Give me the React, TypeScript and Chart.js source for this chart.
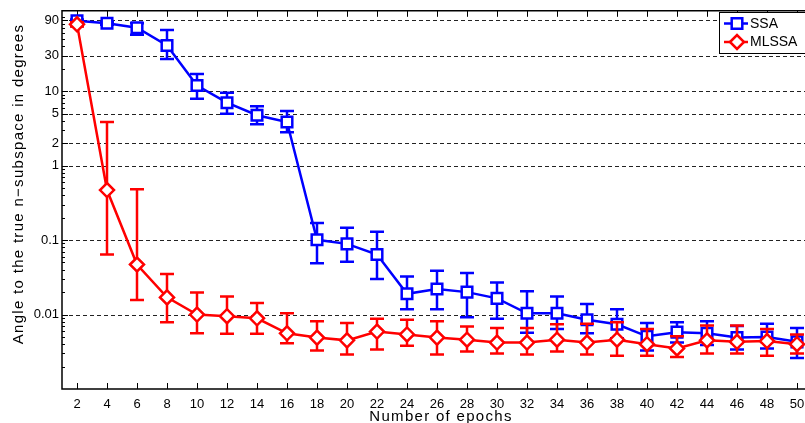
import React, { useEffect, useRef } from "react";
import { Chart, registerables } from "chart.js";

Chart.register(...registerables);

// ---------- data ----------
const epochs = [2, 4, 6, 8, 10, 12, 14, 16, 18, 20, 22, 24, 26, 28, 30, 32, 34, 36, 38, 40, 42, 44, 46, 48, 50];

const ssaMean = [88, 81.5, 71, 41, 11.9, 7.0, 4.75, 3.85, 0.101, 0.089, 0.064, 0.019, 0.022, 0.020, 0.0165, 0.0104, 0.0104, 0.0085, 0.0074, 0.0051, 0.0058, 0.0056, 0.0049, 0.0050, 0.0043];
const ssaUpper = [92, 85, 81.5, 66.5, 17, 9.5, 6.25, 5.4, 0.17, 0.146, 0.129, 0.0324, 0.0386, 0.036, 0.027, 0.0205, 0.0175, 0.0139, 0.0118, 0.0077, 0.0079, 0.0081, 0.007, 0.0075, 0.0066];
const ssaLower = [84, 78, 57, 27, 7.9, 4.98, 3.6, 2.8, 0.049, 0.051, 0.030, 0.0118, 0.0118, 0.0092, 0.0088, 0.0057, 0.0064, 0.0056, 0.0048, 0.0033, 0.0042, 0.0039, 0.0034, 0.0035, 0.0026];

const mlssaMean = [79, 0.47, 0.047, 0.017, 0.010, 0.0095, 0.0089, 0.0056, 0.0049, 0.0045, 0.0059, 0.0054, 0.0049, 0.0046, 0.0042, 0.0042, 0.0046, 0.0042, 0.0046, 0.0040, 0.0035, 0.0045, 0.0043, 0.0044, 0.0040];
const mlssaUpper = [84, 3.86, 0.483, 0.0349, 0.0198, 0.0175, 0.0143, 0.0104, 0.0081, 0.0077, 0.0088, 0.0085, 0.0081, 0.0069, 0.0066, 0.0066, 0.0074, 0.0075, 0.0079, 0.0064, 0.0051, 0.0071, 0.0071, 0.0064, 0.0054];
const mlssaLower = [74, 0.064, 0.0157, 0.0079, 0.0056, 0.0055, 0.0055, 0.0041, 0.0033, 0.0029, 0.0034, 0.0038, 0.0029, 0.0032, 0.003, 0.0029, 0.0032, 0.0029, 0.0028, 0.0028, 0.0027, 0.003, 0.003, 0.0028, 0.003];

const yTickValues = [0.01, 0.1, 1, 2, 5, 10, 30, 90];
const xTickValues = epochs;
const seriesNames = ["SSA", "MLSSA"];
const xTitle = "Number of epochs";
const yTitle = "Angle to the true n\u2212subspace in degrees";

const BLUE = "#0000ff";
const RED = "#ff0000";
const FONT = "'Liberation Sans', Arial, Helvetica, sans-serif";

function drawMarker(ctx: CanvasRenderingContext2D, style: string, x: number, y: number, color: string) {
  ctx.save();
  ctx.lineWidth = 2.5;
  ctx.strokeStyle = color;
  ctx.fillStyle = "#fff";
  ctx.beginPath();
  if (style === "rect") {
    const s = 5.3;
    ctx.rect(x - s, y - s, 2 * s, 2 * s);
  } else {
    const r = 7;
    ctx.moveTo(x - r, y);
    ctx.lineTo(x, y - r);
    ctx.lineTo(x + r, y);
    ctx.lineTo(x, y + r);
    ctx.closePath();
  }
  ctx.fill();
  ctx.stroke();
  ctx.restore();
}

const framePlugin = {
  id: "matlabFrame",
  beforeDatasetsDraw(chart: any) {
    const { ctx, chartArea: a, scales } = chart;
    const x = scales.x;
    const y = scales.y;
    ctx.save();
    // dashed grid lines
    ctx.strokeStyle = "#222";
    ctx.lineWidth = 1;
    ctx.setLineDash([4, 3]);
    for (const v of yTickValues) {
      const py = Math.round(y.getPixelForValue(v)) + 0.5;
      ctx.beginPath();
      ctx.moveTo(a.left, py);
      ctx.lineTo(a.right, py);
      ctx.stroke();
    }
    ctx.setLineDash([]);
    ctx.strokeStyle = "#000";
    // x ticks (bottom & top, inward)
    for (const v of xTickValues) {
      const px = Math.round(x.getPixelForValue(v)) + 0.5;
      ctx.beginPath();
      ctx.moveTo(px, a.bottom);
      ctx.lineTo(px, a.bottom - 6);
      ctx.moveTo(px, a.top);
      ctx.lineTo(px, a.top + 6);
      ctx.stroke();
    }
    // y major ticks
    for (const v of yTickValues) {
      const py = Math.round(y.getPixelForValue(v)) + 0.5;
      ctx.beginPath();
      ctx.moveTo(a.left, py);
      ctx.lineTo(a.left + 6, py);
      ctx.stroke();
    }
    // y minor ticks
    for (let e = -3; e <= 2; e++) {
      for (let m = 1; m <= 9; m++) {
        const v = m * Math.pow(10, e);
        if (v <= y.min || v >= y.max) continue;
        const py = Math.round(y.getPixelForValue(v)) + 0.5;
        ctx.beginPath();
        ctx.moveTo(a.left, py);
        ctx.lineTo(a.left + 3, py);
        ctx.stroke();
      }
    }
    // box
    ctx.lineWidth = 1.5;
    ctx.beginPath();
    ctx.moveTo(a.left, a.top);
    ctx.lineTo(a.right, a.top);
    ctx.lineTo(a.right, a.bottom);
    ctx.lineTo(a.left, a.bottom);
    ctx.closePath();
    ctx.stroke();
    ctx.restore();
  },
  beforeDatasetDraw(chart: any, args: any) {
    const ds = chart.data.datasets[args.index];
    const meta = args.meta;
    const y = chart.scales.y;
    const { ctx } = chart;
    ctx.save();
    ctx.strokeStyle = ds.borderColor;
    ctx.lineWidth = 2.5;
    const cap = 7;
    meta.data.forEach((pt: any, i: number) => {
      const px = pt.x;
      const top = y.getPixelForValue(ds.errHi[i]);
      const bot = y.getPixelForValue(ds.errLo[i]);
      ctx.beginPath();
      ctx.moveTo(px, top);
      ctx.lineTo(px, bot);
      ctx.moveTo(px - cap, top);
      ctx.lineTo(px + cap, top);
      ctx.moveTo(px - cap, bot);
      ctx.lineTo(px + cap, bot);
      ctx.stroke();
    });
    ctx.restore();
  },
  afterDraw(chart: any) {
    const { ctx, chartArea: a } = chart;
    ctx.save();
    // axis titles
    ctx.fillStyle = "#000";
    ctx.font = `15px ${FONT}`;
    (ctx as any).letterSpacing = "1.3px";
    ctx.textAlign = "center";
    ctx.textBaseline = "alphabetic";
    ctx.fillText(xTitle, (a.left + a.right) / 2 + 4, 421);
    ctx.save();
    ctx.translate(23, 184);
    ctx.rotate(-Math.PI / 2);
    ctx.fillText(yTitle, 0, 0);
    ctx.restore();
    (ctx as any).letterSpacing = "0px";

    // legend
    const lx = 719.5;
    const ly = 12.5;
    ctx.fillStyle = "#fff";
    ctx.fillRect(lx, ly, 120, 41);
    ctx.strokeStyle = "#000";
    ctx.lineWidth = 1;
    ctx.strokeRect(lx, ly, 120, 41);
    const rows = [
      { name: seriesNames[0], color: BLUE, style: "rect", y: 23.5 },
      { name: seriesNames[1], color: RED, style: "rectRot", y: 42 },
    ];
    ctx.font = `14px ${FONT}`;
    ctx.textAlign = "left";
    ctx.textBaseline = "middle";
    for (const r of rows) {
      ctx.strokeStyle = r.color;
      ctx.lineWidth = 2.5;
      ctx.beginPath();
      ctx.moveTo(724, r.y);
      ctx.lineTo(748, r.y);
      ctx.stroke();
      drawMarker(ctx, r.style, 737, r.y, r.color);
      ctx.fillStyle = "#000";
      ctx.fillText(r.name, 750, r.y + 0.5);
    }
    ctx.restore();
  },
};

export default function App() {
  const canvasRef = useRef<HTMLCanvasElement | null>(null);

  useEffect(() => {
    const canvas = canvasRef.current;
    if (!canvas) return;
    Chart.defaults.font.family = FONT;
    const chart = new Chart(canvas, {
      type: "line",
      data: {
        datasets: [
          {
            label: seriesNames[0],
            data: epochs.map((e, i) => ({ x: e, y: ssaMean[i] })),
            errHi: ssaUpper,
            errLo: ssaLower,
            borderColor: BLUE,
            backgroundColor: "#ffffff",
            borderWidth: 2.5,
            pointStyle: "rect",
            pointRadius: 7.5,
            pointBorderWidth: 2.5,
            pointBackgroundColor: "#ffffff",
            pointBorderColor: BLUE,
            tension: 0,
            order: 2,
          } as any,
          {
            label: seriesNames[1],
            data: epochs.map((e, i) => ({ x: e, y: mlssaMean[i] })),
            errHi: mlssaUpper,
            errLo: mlssaLower,
            borderColor: RED,
            backgroundColor: "#ffffff",
            borderWidth: 2.5,
            pointStyle: "rectRot",
            pointRadius: 7,
            pointBorderWidth: 2.5,
            pointBackgroundColor: "#ffffff",
            pointBorderColor: RED,
            tension: 0,
            order: 1,
          } as any,
        ],
      },
      options: {
        responsive: false,
        animation: false,
        devicePixelRatio: 1,
        layout: { padding: { top: 8, right: 18, left: 0, bottom: 0 } },
        plugins: {
          legend: { display: false },
          tooltip: { enabled: false },
        },
        scales: {
          x: {
            type: "linear",
            min: 1,
            max: 51,
            grid: { display: false, drawTicks: false },
            border: { display: false },
            afterBuildTicks: (scale: any) => {
              scale.ticks = xTickValues.map((v) => ({ value: v }));
            },
            afterFit: (scale: any) => {
              scale.height = 34;
            },
            ticks: {
              autoSkip: false,
              maxRotation: 0,
              padding: 8,
              color: "#000",
              font: { size: 13, family: FONT },
              callback: (v: any) => String(v),
            },
          },
          y: {
            type: "logarithmic",
            min: 0.001,
            max: 120,
            grid: { display: false, drawTicks: false },
            border: { display: false },
            afterBuildTicks: (scale: any) => {
              scale.ticks = yTickValues.map((v) => ({ value: v }));
            },
            afterFit: (scale: any) => {
              scale.width = 62;
            },
            ticks: {
              padding: 3,
              color: "#000",
              font: { size: 13, family: FONT },
              callback: (v: any) => String(v),
            },
          },
        },
      } as any,
      plugins: [framePlugin as any],
    });
    return () => chart.destroy();
  }, []);

  return (
    <div
      style={{
        position: "fixed",
        left: 0,
        top: 0,
        width: 805,
        height: 423,
        overflow: "hidden",
        background: "#fff",
      }}
    >
      <canvas ref={canvasRef} width={830} height={423} style={{ display: "block", width: 830, height: 423 }} />
    </div>
  );
}
